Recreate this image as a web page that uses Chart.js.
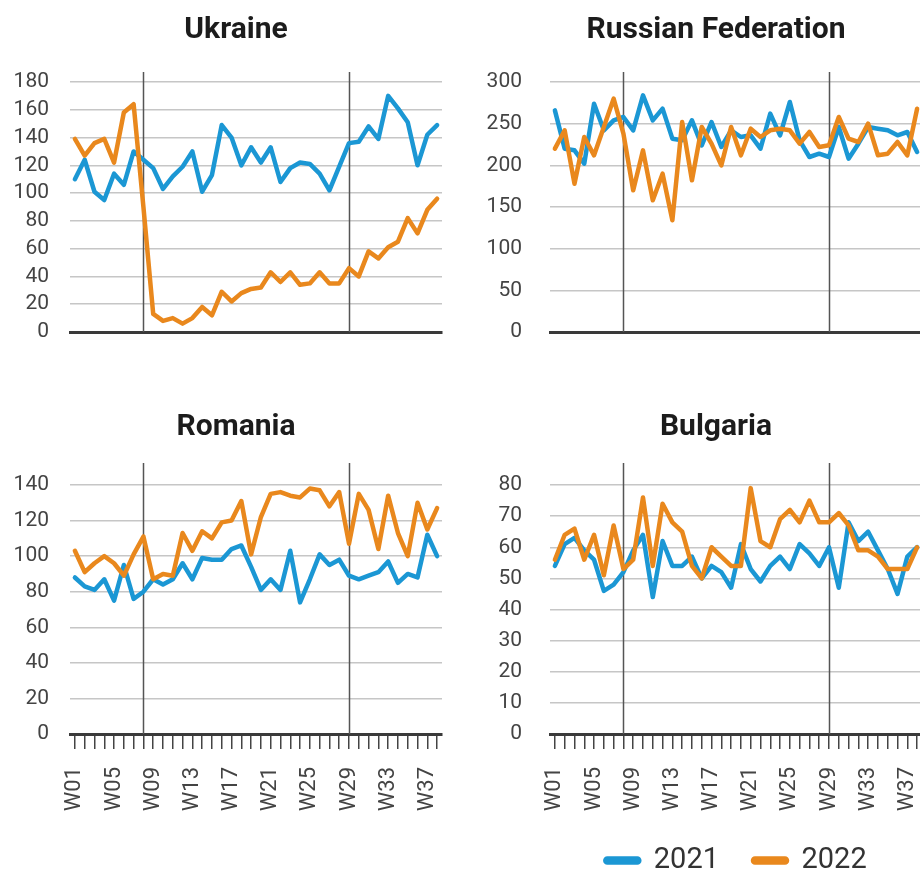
<!DOCTYPE html>
<html>
<head>
<meta charset="utf-8">
<title>Weekly arrivals 2021 vs 2022</title>
<script src="https://cdn.jsdelivr.net/npm/chart.js@4.4.1/dist/chart.umd.min.js"></script>
<style>
  html, body { margin: 0; padding: 0; background: #fff; }
  #wrap { position: relative; width: 920px; height: 879px; overflow: hidden; background: #fff; }
  #wrap canvas { position: absolute; }
</style>
</head>
<body>
<div id="wrap">
  <canvas id="ua" width="487" height="374" style="left:0;top:0"></canvas>
  <canvas id="ru" width="487" height="374" style="left:480px;top:0"></canvas>
  <canvas id="ro" width="487" height="422" style="left:0;top:397px"></canvas>
  <canvas id="bg" width="487" height="488" style="left:480px;top:397px"></canvas>
</div>
<script>
// ── data ─────────────────────────────────────────────
const weeks = ['W01','W02','W03','W04','W05','W06','W07','W08','W09','W10',
  'W11','W12','W13','W14','W15','W16','W17','W18','W19','W20',
  'W21','W22','W23','W24','W25','W26','W27','W28','W29','W30',
  'W31','W32','W33','W34','W35','W36','W37','W38'];
const markerWeeks = ['W08', 'W29'];

const ukraine2021 = [110,124,101,95,114,106,130,124,118,103,112,119,130,101,113,149,140,120,133,122,133,108,118,122,121,114,102,119,136,137,148,139,170,161,151,120,142,149];
const ukraine2022 = [139,127,136,139,122,158,164,90,13,8,10,6,10,18,12,29,22,28,31,32,43,36,43,34,35,43,35,35,46,40,58,53,61,65,82,71,88,96];

const russia2021 = [266,220,218,202,274,242,254,258,242,284,254,268,232,230,254,224,252,222,242,234,236,220,262,236,276,230,210,214,210,246,208,226,246,244,242,236,240,216];
const russia2022 = [220,242,178,234,212,246,280,238,170,218,158,190,134,252,182,246,226,200,246,212,244,234,242,244,242,226,240,222,224,258,232,228,250,212,214,228,212,268];

const romania2021 = [88,83,81,87,75,95,76,80,87,84,87,96,87,99,98,98,104,106,94,81,87,81,103,74,87,101,95,98,89,87,89,91,97,85,90,88,112,100];
const romania2022 = [103,91,96,100,96,89,101,111,87,90,89,113,103,114,110,119,120,131,101,122,135,136,134,133,138,137,128,136,107,135,126,104,134,113,100,130,115,127];

const bulgaria2021 = [54,61,63,59,56,46,48,52,59,64,44,62,54,54,57,50,54,52,47,61,53,49,54,57,53,61,58,54,60,47,68,62,65,59,53,45,57,60];
const bulgaria2022 = [56,64,66,56,64,51,67,53,56,76,54,74,68,65,54,50,60,57,54,54,79,62,60,69,72,68,75,68,68,71,67,59,59,57,53,53,53,60];

const ticksUkraine = [0,20,40,60,80,100,120,140,160,180];
const ticksRussia = [0,50,100,150,200,250,300];
const ticksRomania = [0,20,40,60,80,100,120,140];
const ticksBulgaria = [0,10,20,30,40,50,60,70,80];

// ── look ─────────────────────────────────────────────
const BLUE = '#1b97d4';
const ORANGE = '#e9881d';

// vertical lines at the marked weeks
const weekMarkers = {
  id: 'weekMarkers',
  beforeDatasetsDraw(chart, args, opts) {
    const { ctx, chartArea, scales: { x } } = chart;
    ctx.save();
    ctx.strokeStyle = opts.color;
    ctx.lineWidth = opts.width;
    markerWeeks.forEach(w => {
      const px = Math.round(x.getPixelForValue(weeks.indexOf(w))) + 0.5;
      ctx.beginPath();
      ctx.moveTo(px, chartArea.top - opts.extend);
      ctx.lineTo(px, chartArea.bottom);
      ctx.stroke();
    });
    ctx.restore();
  }
};

function makeChart(id, title, s2021, s2022, yTicks, o) {
  return new Chart(document.getElementById(id), {
    type: 'line',
    data: {
      labels: weeks,
      datasets: [
        { label: '2021', data: s2021, borderColor: BLUE, backgroundColor: BLUE, order: 1 },
        { label: '2022', data: s2022, borderColor: ORANGE, backgroundColor: ORANGE, order: 0 }
      ]
    },
    options: {
      responsive: false,
      animation: false,
      devicePixelRatio: 1,
      layout: { padding: { left: 0, right: 15, top: 0, bottom: 0 } },
      elements: {
        line: { borderWidth: 4.5, tension: 0, borderJoinStyle: 'round', borderCapStyle: 'round' },
        point: { radius: 0 }
      },
      plugins: {
        title: {
          display: true,
          text: title,
          color: '#1c1c1c',
          font: { family: 'Roboto', size: 30, weight: 'bold', lineHeight: 1.2 },
          padding: { top: 12, bottom: o.titleGap }
        },
        legend: {
          display: !!o.legend,
          position: 'bottom',
          fullSize: false,
          labels: {
            boxWidth: 34,
            boxHeight: 4,
            useBorderRadius: true,
            borderRadius: 2,
            padding: 34,
            color: '#333',
            font: { family: 'Roboto', size: 29 },
            sort: (a, b) => a.datasetIndex - b.datasetIndex
          }
        },
        tooltip: { enabled: false },
        weekMarkers: { color: '#555', width: 1.5, extend: o.extend }
      },
      scales: {
        x: {
          offset: true,
          grid: {
            offset: false,
            drawOnChartArea: false,
            drawTicks: o.labels,
            tickLength: 15,
            color: '#444',
            lineWidth: 1.5
          },
          border: { display: true, color: '#3a3a3a', width: 3 },
          ticks: {
            display: o.labels,
            autoSkip: false,
            minRotation: 90,
            maxRotation: 90,
            padding: 18,
            color: '#444',
            font: { family: 'Roboto', size: 22 },
            callback: (v, i) => (i % 4 === 0 ? weeks[i] : '')
          },
          afterFit: s => { s.height = o.xHeight; }
        },
        y: {
          min: yTicks[0],
          max: yTicks[yTicks.length - 1],
          grid: { color: '#c6c6c6', lineWidth: 1.5, drawTicks: false },
          border: { display: false },
          ticks: {
            stepSize: yTicks[1] - yTicks[0],
            autoSkip: false,
            padding: o.yPad,
            color: '#444',
            font: { family: 'Roboto', size: 21 }
          },
          afterFit: s => { s.width = 70; }
        },
        // empty right-hand axis: keeps a margin so the title stays centred on the panel
        gap: {
          position: 'right',
          display: true,
          grid: { display: false },
          border: { display: false },
          ticks: { display: false },
          afterFit: s => { s.width = 30; }
        }
      }
    },
    plugins: [weekMarkers]
  });
}

makeChart('ua', 'Ukraine', ukraine2021, ukraine2022, ticksUkraine,
  { titleGap: 34, extend: 10, labels: false, xHeight: 42, yPad: 21 });
makeChart('ru', 'Russian Federation', russia2021, russia2022, ticksRussia,
  { titleGap: 34, extend: 10, labels: false, xHeight: 42, yPad: 28 });
makeChart('ro', 'Romania', romania2021, romania2022, ticksRomania,
  { titleGap: 40, extend: 22, labels: true, xHeight: 85, yPad: 21 });
makeChart('bg', 'Bulgaria', bulgaria2021, bulgaria2022, ticksBulgaria,
  { titleGap: 40, extend: 22, labels: true, xHeight: 78, yPad: 28, legend: true });
</script>
</body>
</html>
